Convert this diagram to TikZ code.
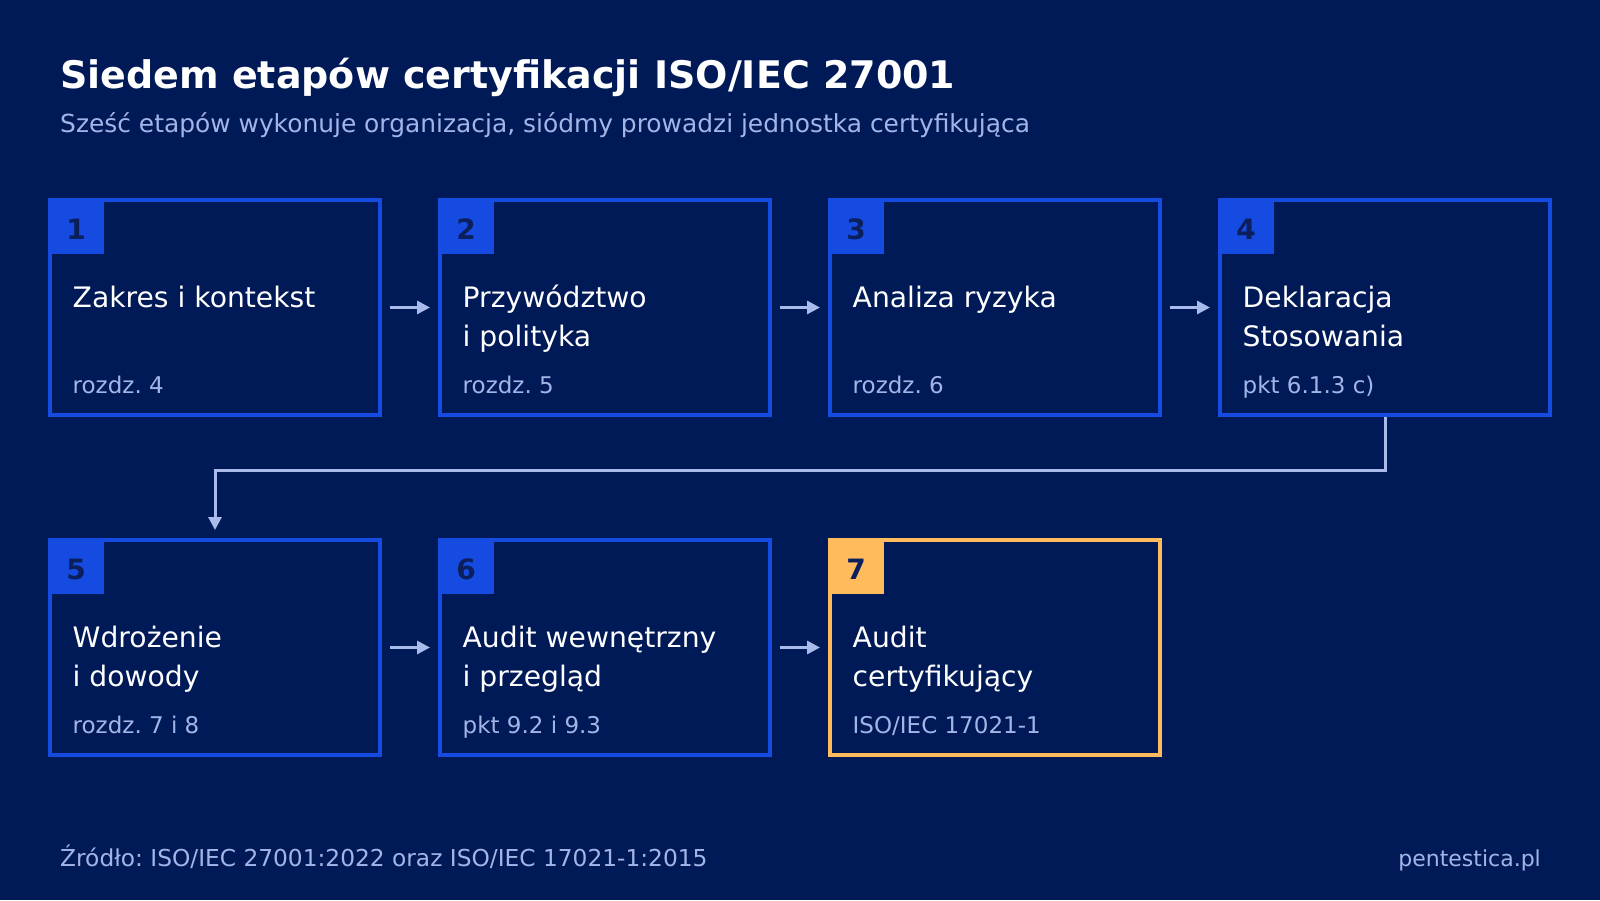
\documentclass[tikz,border=0pt]{standalone}
\usepackage{fontspec}
\setmainfont{DejaVu Sans}
\usetikzlibrary{arrows.meta}
\definecolor{bgnavy}{HTML}{001A57}
\definecolor{boxblue}{HTML}{154BE0}
\definecolor{tagnum}{HTML}{0B1F5C}
\definecolor{mutedtxt}{HTML}{A3B5E8}
\definecolor{linkcol}{HTML}{A9BBEA}
\definecolor{certorange}{HTML}{FFBB5C}
\frenchspacing

\begin{document}
\begin{tikzpicture}[x=1pt,y=-1pt,line cap=butt,line join=miter,>={Triangle[length=13pt,width=13pt]},
	stage/.style={draw=boxblue,line width=4pt,minimum width=330pt,minimum height=215pt,inner sep=0pt,anchor=north west},
	tag/.style={fill=boxblue,minimum size=56pt,inner sep=0pt,outer sep=0pt,anchor=north west,text=tagnum,text height=26pt,text depth=0pt,font=\bfseries\fontsize{28}{34}\selectfont},
	stagename/.style={anchor=base west,inner sep=0pt,align=left,text=white,font=\fontsize{28.2}{39.4}\selectfont},
	stageref/.style={anchor=base west,inner sep=0pt,text=mutedtxt,font=\fontsize{23}{27}\selectfont},
	flow/.style={->,draw=linkcol,line width=3pt,shorten <=8pt,shorten >=8pt},
	link/.style={->,draw=linkcol,line width=3pt,shorten >=8pt}]
	\useasboundingbox (0,0) rectangle (1600,900);
	\fill[bgnavy] (0,0) rectangle (1600,900);
	% naglowek
	\node[anchor=base west,inner sep=0pt,text=white,font=\bfseries\fontsize{38}{44}\selectfont] (title) at (60,88.3) {Siedem etapów certyfikacji ISO/IEC 27001};
	\node[anchor=base west,inner sep=0pt,text=mutedtxt,font=\fontsize{24.9}{30}\selectfont] (subtitle) at (60,132.3) {Sześć etapów wykonuje organizacja, siódmy prowadzi jednostka certyfikująca};
	% rzad 1
	\node[stage] (b1) at (48,198) {};
	\node[stage] (b2) at (438,198) {};
	\node[stage] (b3) at (828,198) {};
	\node[stage] (b4) at (1218,198) {};
	\node[tag] (t1) at (b1.north west) {1};
	\node[tag] (t2) at (b2.north west) {2};
	\node[tag] (t3) at (b3.north west) {3};
	\node[tag] (t4) at (b4.north west) {4};
	% dwuwierszowe: base = ostatni wiersz
	\node[stagename] (n1) at (72.5,307.3) {Zakres i kontekst};
	\node[stagename] (n2) at (462.5,346.7) {Przywództwo\\i polityka};
	\node[stagename] (n3) at (852.5,307.3) {Analiza ryzyka};
	\node[stagename] (n4) at (1242.5,346.7) {Deklaracja\\Stosowania};
	\node[stageref] (r1) at (72.5,393.3) {rozdz. 4};
	\node[stageref] (r2) at (462.5,393.3) {rozdz. 5};
	\node[stageref] (r3) at (852.5,393.3) {rozdz. 6};
	\node[stageref] (r4) at (1242.5,393.3) {pkt 6.1.3 c)};
	% rzad 2
	\node[stage] (b5) at (48,538) {};
	\node[stage] (b6) at (438,538) {};
	\node[stage,draw=certorange] (b7) at (828,538) {};
	\node[tag] (t5) at (b5.north west) {5};
	\node[tag] (t6) at (b6.north west) {6};
	\node[tag,fill=certorange] (t7) at (b7.north west) {7};
	\node[stagename] (n5) at (72.5,686.7) {Wdrożenie\\i dowody};
	\node[stagename] (n6) at (462.5,686.7) {Audit wewnętrzny\\i przegląd};
	\node[stagename] (n7) at (852.5,686.7) {Audit\\certyfikujący};
	\node[stageref] (r5) at (72.5,733.3) {rozdz. 7 i 8};
	\node[stageref] (r6) at (462.5,733.3) {pkt 9.2 i 9.3};
	\node[stageref] (r7) at (852.5,733.3) {ISO/IEC 17021-1};
	% strzalki
	\draw[flow] (b1) -- (b2);
	\draw[flow] (b2) -- (b3);
	\draw[flow] (b3) -- (b4);
	\draw[flow] (b5) -- (b6);
	\draw[flow] (b6) -- (b7);
	\draw[link] (b4.south) -- ++(0,53) -| (b5.north);
	% stopka
	\node[anchor=base west,inner sep=0pt,text=mutedtxt,font=\fontsize{23.3}{28}\selectfont] (source) at (60,866) {Źródło: ISO/IEC 27001:2022 oraz ISO/IEC 17021-1:2015};
	\node[anchor=base east,inner sep=0pt,text=mutedtxt,font=\fontsize{22}{26}\selectfont] (brand) at (1541,866) {pentestica.pl};
\end{tikzpicture}
\end{document}
